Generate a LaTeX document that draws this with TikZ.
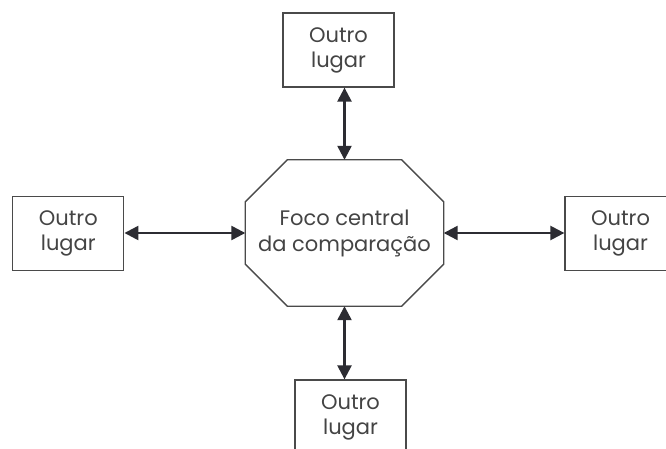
\documentclass[tikz,border=0pt]{standalone}
\usepackage{fontspec}
\setmainfont{Poppins}
\usepackage{xcolor}
\usetikzlibrary{positioning, arrows.meta, calc}

\definecolor{linha}{HTML}{4A4A4A}
\definecolor{seta}{HTML}{2C2C32}
\definecolor{texto}{HTML}{444444}

\begin{document}
\begin{tikzpicture}[x=1pt, y=1pt,
    lugar/.style={draw=linha, line width=1.3pt, fill=white, text=texto,
        minimum width=111pt, minimum height=74pt, align=center,
        font=\fontsize{21}{25}\selectfont},
    link/.style={seta, line width=2.4pt,
        {Triangle[length=14pt, width=14pt]}-{Triangle[length=14pt, width=14pt]}}]
        \clip (0,0) rectangle (666,448);
        \fill[white] (0,0) rectangle (666,448);
        % foco central
        \node[text=texto, minimum width=198pt, minimum height=146pt, align=center,
            font=\fontsize{21}{26}\selectfont] (foco) at (344.5,215) {Foco central\\da comparação};
        \coordinate (f1) at ($(foco.north west)+(42,0)$); \coordinate (f2) at ($(foco.north east)+(-42,0)$);
        \coordinate (f3) at ($(foco.north east)+(0,-42)$); \coordinate (f4) at ($(foco.south east)+(0,42)$);
        \coordinate (f5) at ($(foco.south east)+(-42,0)$); \coordinate (f6) at ($(foco.south west)+(42,0)$);
        \coordinate (f7) at ($(foco.south west)+(0,42)$); \coordinate (f8) at ($(foco.north west)+(0,-42)$);
        \draw[linha, line width=1.3pt] (f1)--(f2)--(f3)--(f4)--(f5)--(f6)--(f7)--(f8)--cycle;
        % outros lugares
        \node[lugar] (cima) at (338.5,398) {Outro\\lugar};
        \node[lugar] (esq) at (68.3,214.5) {Outro\\lugar};
        \node[lugar] (dir) at (620.5,214.5) {Outro\\lugar};
        \node[lugar] (baixo) at (350.5,31) {Outro\\lugar};
        \draw[link] (foco.north) -- (foco.north |- cima.south);
        \draw[link] (foco.south) -- (foco.south |- baixo.north);
        \draw[link] (foco.west) -- (foco.west -| esq.east);
        \draw[link] (foco.east) -- (foco.east -| dir.west);
    \end{tikzpicture}
\end{document}
